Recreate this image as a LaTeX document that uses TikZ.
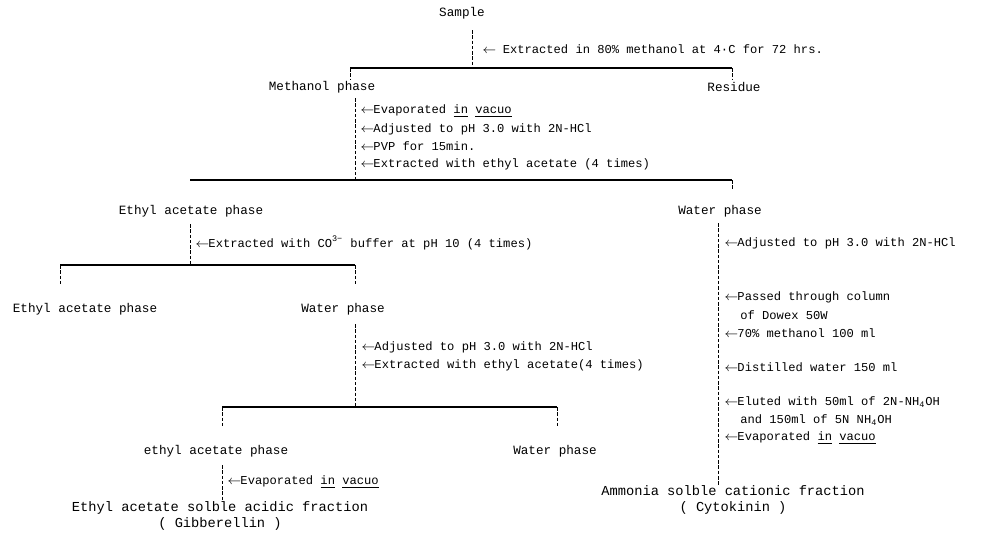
\documentclass[tikz,border=0pt]{standalone}
\usepackage{fontspec}
\setmainfont{Liberation Mono}
\newcommand{\larr}{\ensuremath{\leftarrow}\kern-0.5pt}
\begin{document}
\begin{tikzpicture}[x=0.02cm,y=-0.02cm,
  lbl/.style={font=\fontsize{7.2}{8.6}\selectfont, inner sep=0pt},
  step lbl/.style={font=\fontsize{6.9}{8.3}\selectfont, inner sep=0pt, anchor=west},
  big/.style={font=\fontsize{7.8}{9.4}\selectfont, inner sep=0pt, align=center},
  vline/.style={line width=0.45pt, dash pattern=on 2pt off 1pt},
  hbar/.style={line width=0.65pt}]
\useasboundingbox (0,0) rectangle (1000,534);

% top
\node[lbl] (sample) at (462,13) {Sample};
\coordinate (s0) at (472,30);
\coordinate (b1M) at (472,68);
\coordinate (b1L) at (350,68);
\coordinate (b1R) at (732,68);
\node[step lbl] (op1) at (482,49) {\larr{} Extracted in 80\% methanol at 4·C for 72 hrs.};
\node[lbl] (meth) at (322,87) {Methanol phase};
\node[lbl] (res) at (734,87) {Residue};
\draw[vline] (s0) -- (b1M);
\draw[hbar] (b1L) -- (b1R);
\draw[vline] (b1L) -- ++(0,12);
\draw[vline] (b1R) -- ++(0,12);

% methanol phase steps
\coordinate (m0) at (355,98);
\coordinate (b2M) at (355,180);
\coordinate (b2L) at (190,180);
\coordinate (b2R) at (732,180);
\node[step lbl] (op2) at (360,111) {\larr Evaporated \underline{in} \underline{vacuo}};
\node[step lbl] (op3) at (360,129) {\larr Adjusted to pH 3.0 with 2N-HCl};
\node[step lbl] (op4) at (360,146) {\larr PVP for 15min.};
\node[step lbl] (op5) at (360,164) {\larr Extracted with ethyl acetate (4 times)};
\draw[vline] (m0) -- (b2M);
\draw[hbar] (b2L) -- (b2R);
\draw[vline] (b2R) -- ++(0,10);
\node[lbl] (eap1) at (191,211) {Ethyl acetate phase};
\node[lbl] (wp1) at (720,211) {Water phase};

% ethyl acetate phase branch
\coordinate (e0) at (190,224);
\coordinate (b3M) at (190,265);
\coordinate (b3L) at (60,265);
\coordinate (b3R) at (355,265);
\node[step lbl] (op6) at (195,243) {\larr Extracted with CO\textsuperscript{3−} buffer at pH 10 (4 times)};
\draw[vline] (e0) -- (b3M);
\draw[hbar] (b3L) -- (b3R);
\draw[vline] (b3L) -- ++(0,20);
\draw[vline] (b3R) -- ++(0,20);
\node[lbl] (eap2) at (85,309) {Ethyl acetate phase};
\node[lbl] (wp2) at (343,309) {Water phase};

% water phase (left) branch
\coordinate (w0) at (355,324);
\coordinate (b4M) at (355,407);
\coordinate (b4L) at (222,407);
\coordinate (b4R) at (557,407);
\node[step lbl] (op7) at (361,347) {\larr Adjusted to pH 3.0 with 2N-HCl};
\node[step lbl] (op8) at (361,365) {\larr Extracted with ethyl acetate(4 times)};
\draw[vline] (w0) -- (b4M);
\draw[hbar] (b4L) -- (b4R);
\draw[vline] (b4L) -- ++(0,20);
\draw[vline] (b4R) -- ++(0,20);
\node[lbl] (eap3) at (216,451) {ethyl acetate phase};
\node[lbl] (wp3) at (555,451) {Water phase};

% gibberellin
\coordinate (g0) at (222,465);
\node[step lbl] (op9) at (227,482) {\larr Evaporated \underline{in} \underline{vacuo}};
\node[big] (frac1) at (220,516) {Ethyl acetate solble acidic fraction\\( Gibberellin )};
\draw[vline] (g0) -- (g0 |- frac1.north);

% water phase (right) branch
\coordinate (r0) at (718,223);
\node[step lbl] (op10) at (724,243) {\larr Adjusted to pH 3.0 with 2N-HCl};
\node[step lbl] (op11) at (724,297) {\larr Passed through column};
\node[step lbl] (op12) at (740,315) {of Dowex 50W};
\node[step lbl] (op13) at (724,333) {\larr 70\% methanol 100 ml};
\node[step lbl] (op14) at (724,367) {\larr Distilled water 150 ml};
\node[step lbl] (op15) at (724,402) {\larr Eluted with 50ml of 2N-NH\textsubscript{4}OH};
\node[step lbl] (op16) at (740,420) {and 150ml of 5N NH\textsubscript{4}OH};
\node[step lbl] (op17) at (724,438) {\larr Evaporated \underline{in} \underline{vacuo}};
\node[big] (frac2) at (733,500) {Ammonia solble cationic fraction\\( Cytokinin )};
\draw[vline] (r0) -- (r0 |- frac2.north);
\end{tikzpicture}
\end{document}
